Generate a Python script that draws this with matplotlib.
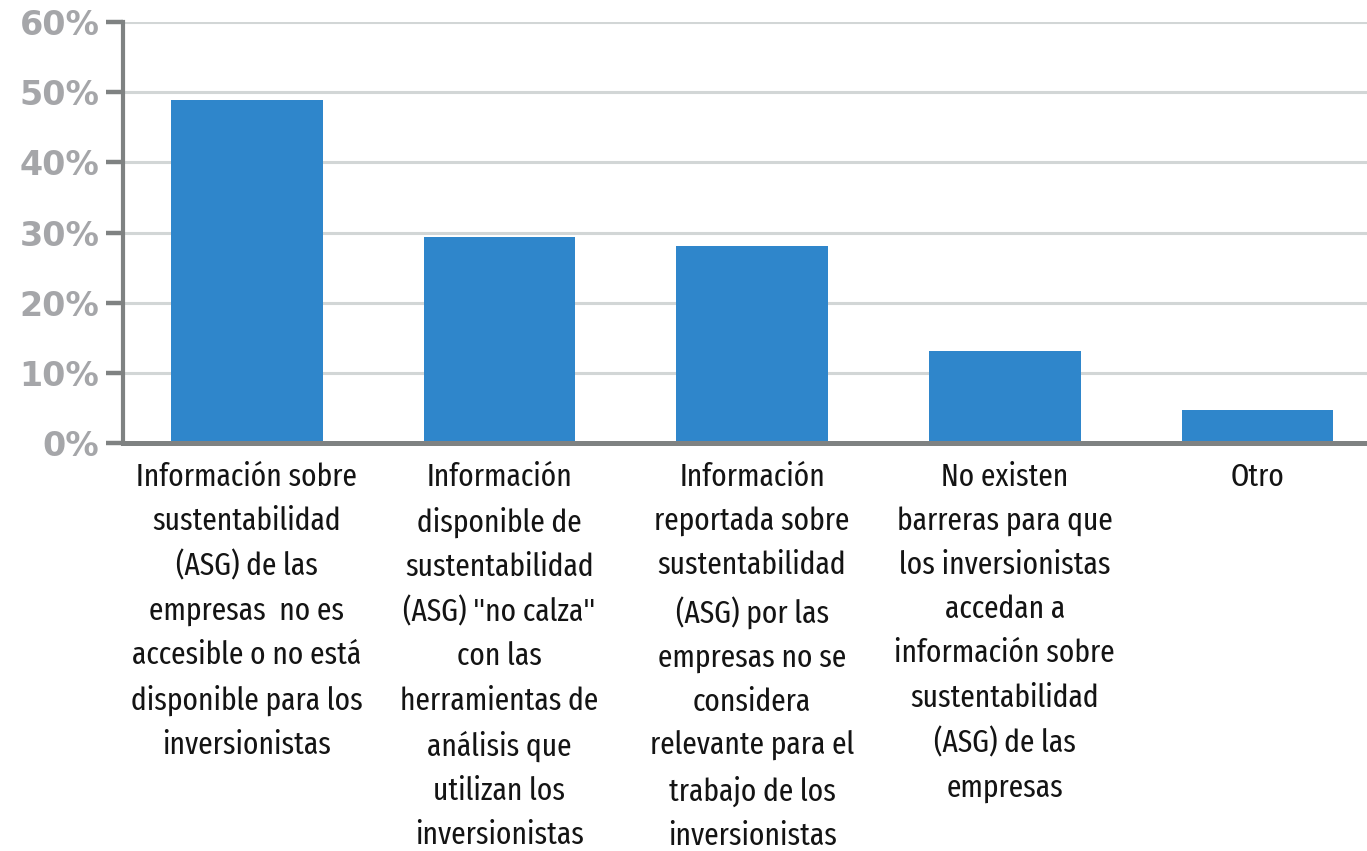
import numpy as np
import matplotlib
matplotlib.use("Agg")
import matplotlib.pyplot as plt
from matplotlib import font_manager
from matplotlib.ticker import FuncFormatter

# survey answers (share of respondents)
categories = [
    "Información sobre\nsustentabilidad\n(ASG) de las\nempresas  no es\naccesible o no está\ndisponible para los\ninversionistas",
    "Información\ndisponible de\nsustentabilidad\n(ASG) \"no calza\"\ncon las\nherramientas de\nanálisis que\nutilizan los\ninversionistas",
    "Información\nreportada sobre\nsustentabilidad\n(ASG) por las\nempresas no se\nconsidera\nrelevante para el\ntrabajo de los\ninversionistas",
    "No existen\nbarreras para que\nlos inversionistas\naccedan a\ninformación sobre\nsustentabilidad\n(ASG) de las\nempresas",
    "Otro",
]
values = [48.9, 29.4, 28.1, 13.2, 4.7]
yticks = [0, 10, 20, 30, 40, 50, 60]

bar_color = '#2f86cb'
axis_color = '#7f8282'
grid_color = '#d2d6d6'

# the category labels use a narrow typeface; pick the narrowest one installed
def pick_narrow_font():
    found = []
    for f in font_manager.fontManager.ttflist:
        nm = (f.name + ' ' + f.fname).lower()
        if f.style != 'normal':
            continue
        w = f.weight if isinstance(f.weight, int) else 400
        if w > 500 or w < 300:
            continue
        rank = None
        if 'extracondensed' in nm or 'extra condensed' in nm or f.stretch == 'extra-condensed':
            rank = 0
        elif 'narrow' in nm:
            rank = 1
        elif 'semicondensed' in nm or 'semi condensed' in nm or f.stretch == 'semi-condensed':
            rank = 3
        elif 'condensed' in nm or f.stretch == 'condensed':
            rank = 2
        if rank is not None:
            found.append((rank, abs(w - 400), f.fname))
    if not found:
        return None
    found.sort()
    return found[0][2]

narrow = pick_narrow_font()
if narrow:
    label_font = font_manager.FontProperties(fname=narrow, size=23)
else:
    label_font = font_manager.FontProperties(family='DejaVu Sans', size=17)

fig = plt.figure(figsize=(13.67, 8.51), dpi=100)
ax = fig.add_axes([123 / 1367, 1 - 443.5 / 851, 1 - 123 / 1367, (443.5 - 21.7) / 851])

x = np.arange(len(categories))
ax.bar(x, values, width=0.6, color=bar_color, zorder=3)

ax.set_xlim(-0.49, 4.434)
ax.set_ylim(0, 60)
ax.set_yticks(yticks)
ax.yaxis.set_major_formatter(FuncFormatter(lambda v, p: "%d%%" % v))
ax.grid(axis='y', color=grid_color, linewidth=2.2, zorder=0)
ax.set_axisbelow(True)

for s in ['top', 'right']:
    ax.spines[s].set_visible(False)
ax.spines['left'].set_color(axis_color)
ax.spines['left'].set_linewidth(3)
ax.spines['bottom'].set_color(axis_color)
ax.spines['bottom'].set_linewidth(3.6)
ax.spines['bottom'].set_zorder(4)

ax.tick_params(axis='y', length=12, width=3.2, color=axis_color, pad=5,
               labelsize=24, labelcolor='#a5a6a9')
for lbl in ax.get_yticklabels():
    lbl.set_fontweight('bold')
    lbl.set_family('DejaVu Sans')

ax.set_xticks(x)
ax.set_xticklabels(categories, fontproperties=label_font,
                   color='#141414', linespacing=1.58, va='top')
ax.tick_params(axis='x', length=0, pad=13)

fig.savefig('out.png', dpi=100)
